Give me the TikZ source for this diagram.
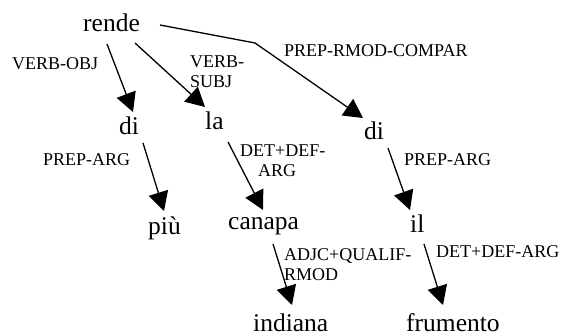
\documentclass[tikz,border=0pt]{standalone}
\usepackage{fontspec}
\setmainfont{Liberation Serif}
\usetikzlibrary{arrows.meta}
\begin{document}
\begin{tikzpicture}[x=1pt,y=-1pt,
  word/.style={inner sep=0pt,anchor=base west,font=\fontsize{25.5}{28}\selectfont},
  lab/.style={inner sep=0pt,anchor=base west,font=\fontsize{18}{20}\selectfont},
  lab2/.style={inner sep=0pt,anchor=north west,align=left,font=\fontsize{18}{20}\selectfont},
  dep/.style={line width=1.3pt,-{Triangle[length=19pt,width=20pt]}}]
\useasboundingbox (0,0) rectangle (562,336);
% words
\node[word] (rende) at (83,32) {rende};
\node[word] (di1) at (119,135) {di};
\node[word] (la) at (205,130) {la};
\node[word] (di2) at (364,140) {di};
\node[word] (piu) at (148,235) {più};
\node[word] (canapa) at (228,230) {canapa};
\node[word] (il) at (410,233) {il};
\node[word] (indiana) at (253,332) {indiana};
\node[word] (frumento) at (406,332) {frumento};
% labels
\node[lab] (l1) at (12,70) {VERB-OBJ};
\node[lab2] (l2) at (190,56) {VERB-\\SUBJ};
\node[lab] (l3) at (284,57) {PREP-RMOD-COMPAR};
\node[lab] (l4) at (43,166) {PREP-ARG};
\node[lab2] (l5) at (240,145) {DET+DEF-\\\hspace*{18pt}ARG};
\node[lab] (l6) at (404,166) {PREP-ARG};
\node[lab2] (l7) at (284,248) {ADJC+QUALIF-\\RMOD};
\node[lab] (l8) at (436,258) {DET+DEF-ARG};
% connectors
\coordinate (bend) at (255,43);
\draw[dep] ([shift={(24,12)}]rende.base west) -- ([shift={(14,-23)}]di1.base west);
\draw[dep] ([shift={(52,11)}]rende.base west) -- ([shift={(0,-23)}]la.base west);
\draw[dep] ([shift={(77,-7)}]rende.base west) -- (bend) -- ([shift={(-1,-22)}]di2.base west);
\draw[dep] ([shift={(24,8)}]di1.base west) -- ([shift={(16,-24)}]piu.base west);
\draw[dep] ([shift={(23,12)}]la.base west) -- ([shift={(35,-20)}]canapa.base west);
\draw[dep] ([shift={(24,8)}]di2.base west) -- ([shift={(0,-23)}]il.base west);
\draw[dep] ([shift={(45,14)}]canapa.base west) -- ([shift={(39,-27)}]indiana.base west);
\draw[dep] ([shift={(14,11)}]il.base west) -- ([shift={(37,-27)}]frumento.base west);
\end{tikzpicture}
\end{document}
